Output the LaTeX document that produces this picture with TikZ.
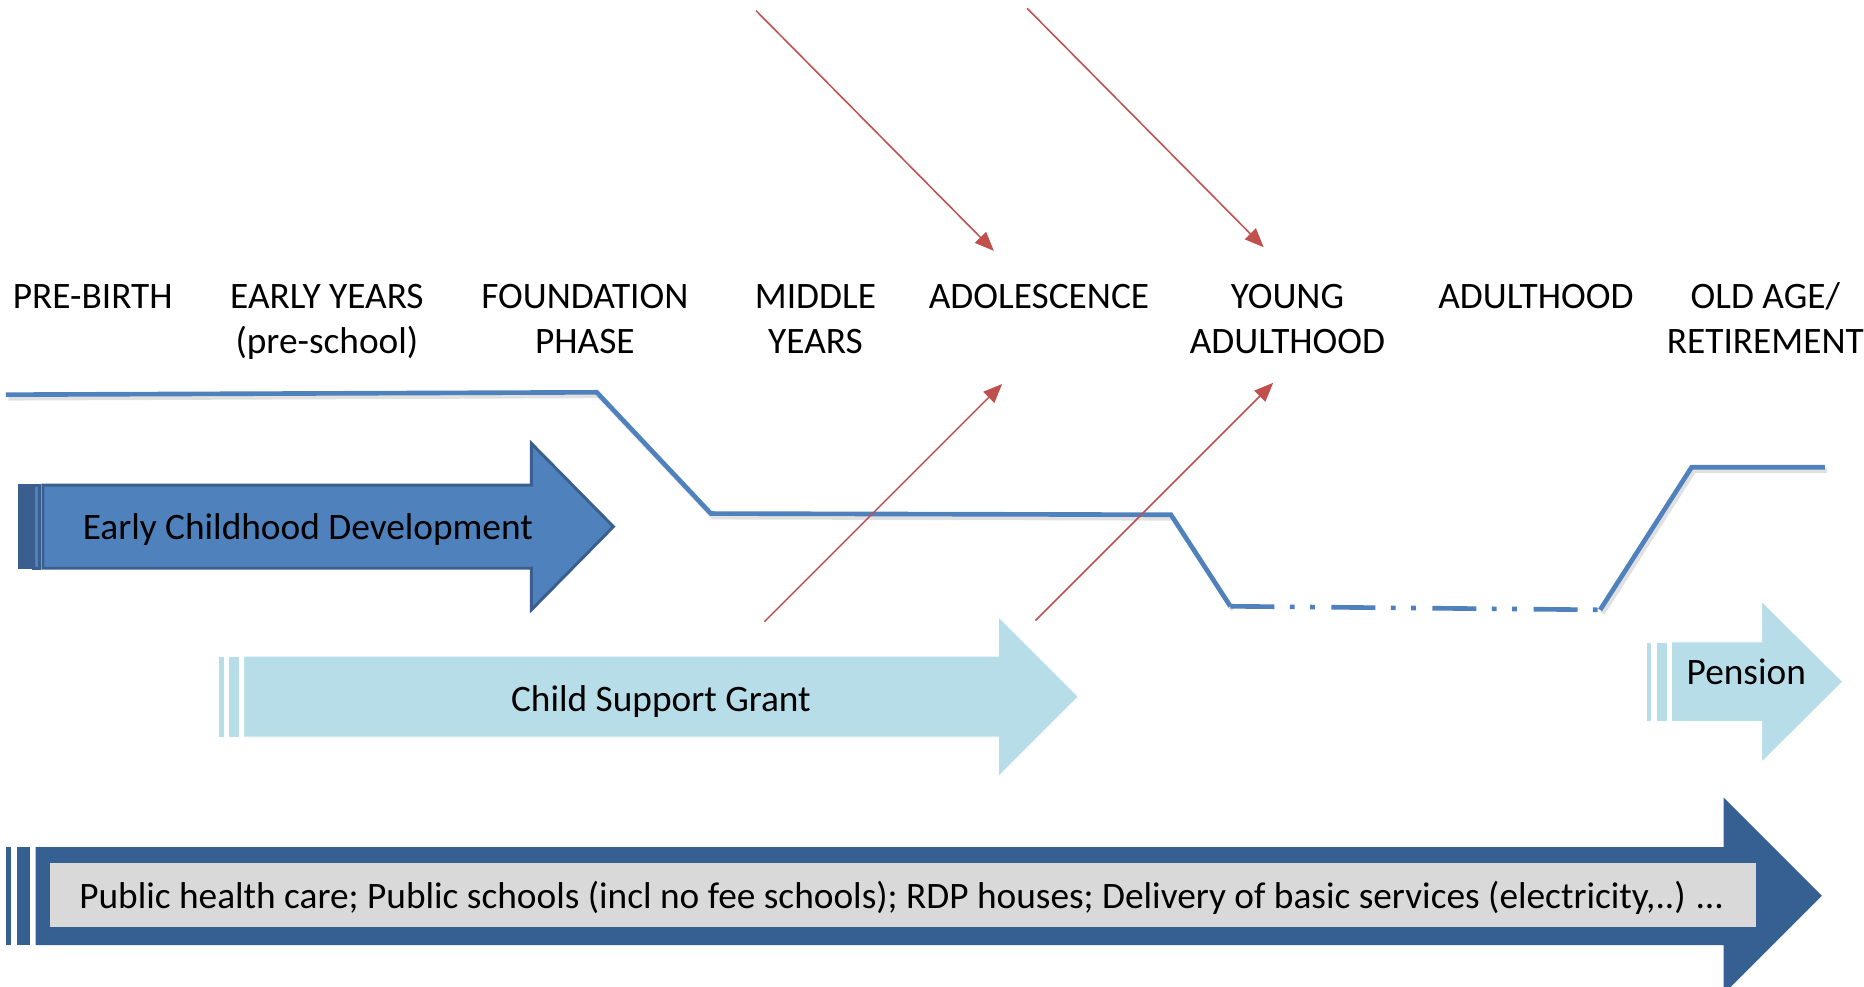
\documentclass[tikz,border=0pt]{standalone}
\usepackage{fontspec}
\setmainfont{Carlito}
\usetikzlibrary{arrows.meta}
\definecolor{lineblue}{HTML}{4F81BD}
\definecolor{ecdfill}{HTML}{4F81BD}
\definecolor{ecdedge}{HTML}{3A5F8E}
\definecolor{csgfill}{HTML}{B7DDE8}
\definecolor{basefill}{HTML}{366092}
\definecolor{graybox}{HTML}{D9D9D9}
\definecolor{redarrow}{HTML}{C0504D}
\setlength{\tabcolsep}{0pt}
\begin{document}
\begin{tikzpicture}[x=1pt,y=-1pt,
  font=\fontsize{31.4}{38}\selectfont,
  lbl/.style={inner sep=0pt, anchor=base},
  redarr/.style={draw=redarrow, line width=1.3pt, -{Triangle[length=16pt,width=13pt]}},
  stage/.style={line width=3.9pt, draw=lineblue, line join=miter},
  stageshadow/.style={line width=3.9pt, draw=black, opacity=0.12, line join=miter},
  ecdshape/.style={fill=ecdfill, draw=ecdedge, line width=2.5pt, line join=miter},
  csgshape/.style={fill=csgfill, draw=white, line width=0.6pt},
  baseshape/.style={fill=basefill, draw=none},
]
\useasboundingbox (0,0) rectangle (1568,830);
\fill[white] (0,0) rectangle (1568,830);

% ---- life stage labels
\node[lbl] (prebirth) at (78,259.5) {PRE-BIRTH};
\node[lbl] (early) at (275,259.5) {\begin{tabular}[t]{c}EARLY YEARS\\(pre-school)\end{tabular}};
\node[lbl] (found) at (492,259.5) {\begin{tabular}[t]{c}FOUNDATION\\PHASE\end{tabular}};
\node[lbl] (middle) at (686,259.5) {\begin{tabular}[t]{c}MIDDLE\\YEARS\end{tabular}};
\node[lbl] (adol) at (874,259.5) {ADOLESCENCE};
\node[lbl] (young) at (1083,259.5) {\begin{tabular}[t]{c}YOUNG\\ADULTHOOD\end{tabular}};
\node[lbl] (adult) at (1292,259.5) {ADULTHOOD};
\node[lbl] (old) at (1485,259.5) {\begin{tabular}[t]{c}OLD AGE/\\RETIREMENT\end{tabular}};

% ---- bottom arrow (public services)
\fill[basefill] (5,712.5) rectangle (9.5,795);
\fill[basefill] (14,712.5) rectangle (25,795);
\path[baseshape] (30,712.5) -- (1450,712.5) -- (1450,671) -- (1532.5,753.5)
   -- (1450,836) -- (1450,795) -- (30,795) -- cycle;
\fill[graybox] (42,726) rectangle (1477,780);
\node[lbl] (publ) at (758,764) {Public health care; Public schools (incl no fee schools); RDP houses; Delivery of basic services (electricity,..) …};

% ---- Child support grant arrow
\path[csgshape] (184,552) rectangle (188.5,620);
\path[csgshape] (192.5,552) rectangle (201,620);
\path[csgshape] (205,552) -- (840,552) -- (840,519) -- (907,586)
   -- (840,653) -- (840,620) -- (205,620) -- cycle;
\node[lbl] (csg) at (556,598.5) {Child Support Grant};

% ---- Pension arrow
\path[csgshape] (1385,540) rectangle (1389.5,607);
\path[csgshape] (1393.5,540) rectangle (1402.5,607);
\path[csgshape] (1406,540) -- (1482,540) -- (1482,506) -- (1550,573.5)
   -- (1482,641) -- (1482,607) -- (1406,607) -- cycle;
\node[lbl] (pension) at (1469,576) {Pension};

% ---- Early childhood development arrow
\path[fill=ecdedge, draw=ecdedge, line width=1pt] (15.5,408) rectangle (26,478);
\path[ecdshape] (28.5,408) rectangle (33,478);
\path[ecdshape] (36,408) -- (447,408) -- (447,373) -- (516,443)
   -- (447,513) -- (447,478) -- (36,478) -- cycle;
\node[lbl] (ecd) at (259,454) {Early Childhood Development};

% ---- support level line
\coordinate (s0) at (5,332);
\coordinate (s1) at (502,330);
\coordinate (s2) at (598,432);
\coordinate (s3) at (985,433);
\coordinate (s4) at (1035,510);
\coordinate (s5) at (1346,513);
\coordinate (s6) at (1423,393);
\coordinate (s7) at (1535,393);
\begin{scope}[shift={(2,3)}]
  \draw[stageshadow] (5,332) -- (502,330) -- (598,432) -- (985,433) -- (1035,510);
  \draw[stageshadow] (1346,513) -- (1423,393) -- (1535,393);
\end{scope}
\draw[stage] (s0) -- (s1) -- (s2) -- (s3) -- (s4);
\draw[stage, dash pattern=on 37pt off 13pt on 4pt off 13pt on 4pt off 14pt] (s4) -- (s5);
\draw[stage] (s5) -- (s6) -- (s7);

% ---- red arrows
\coordinate (r1a) at (636,9);
\coordinate (r1b) at (836,211);
\coordinate (r2a) at (864,7);
\coordinate (r2b) at (1063,208);
\coordinate (r3a) at (643,523);
\coordinate (r3b) at (843,323);
\coordinate (r4a) at (871,522);
\coordinate (r4b) at (1071,322);
\draw[redarr] (r1a) -- (r1b);
\draw[redarr] (r2a) -- (r2b);
\draw[redarr] (r3a) -- (r3b);
\draw[redarr] (r4a) -- (r4b);
\end{tikzpicture}
\end{document}
